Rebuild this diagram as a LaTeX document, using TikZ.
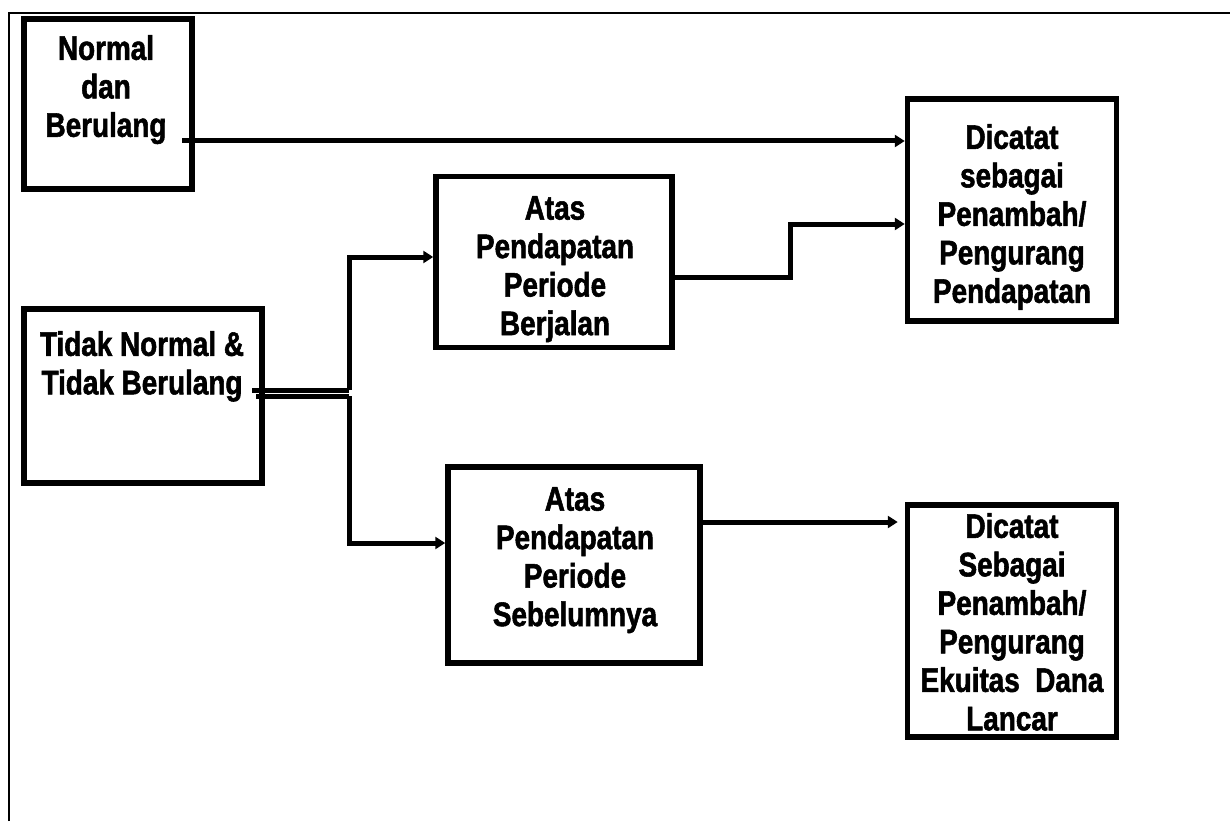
\documentclass[tikz,border=0pt]{standalone}
\usepackage{fontspec}
\setmainfont{Liberation Sans}[FakeStretch=0.82,BoldFeatures={FakeBold=1.6}]
\usetikzlibrary{arrows.meta}
\begin{document}
\begin{tikzpicture}[x=1pt,y=-1pt,
  boxnode/.style={draw,line width=5.5pt,inner sep=0pt},
  txt/.style={anchor=north,align=center,inner sep=0pt,font=\fontsize{34}{38.5}\selectfont\bfseries},
  conn/.style={line width=5pt},
  arr/.style={line width=5pt,-{Triangle[length=10pt,width=12pt]}}]
\useasboundingbox (0,0) rectangle (1230,821);
\fill[white] (0,0) rectangle (1230,821);
\draw[line width=2.5pt] (9,821) -- (9,13) -- (1230,13);
% boxes
\node[boxnode,minimum width=168pt,minimum height=170pt] (b1) at (108,104) {};
\node[boxnode,minimum width=238pt,minimum height=174pt] (b2) at (143,396) {};
\node[boxnode,minimum width=236pt,minimum height=171pt] (b3) at (554,262) {};
\node[boxnode,minimum width=252pt,minimum height=196pt] (b4) at (574,565) {};
\node[boxnode,minimum width=209pt,minimum height=222pt] (d1) at (1012,210) {};
\node[boxnode,minimum width=209pt,minimum height=232pt] (d2) at (1012,621) {};
% texts
\node[txt] (t1) at (106,35) {Normal\\dan\\Berulang};
\node[txt] (t2) at (142,331) {Tidak Normal \&\\Tidak Berulang};
\node[txt] (t3) at (555,196) {Atas\\Pendapatan\\Periode\\Berjalan};
\node[txt] (t4) at (575,487) {Atas\\Pendapatan\\Periode\\Sebelumnya};
\node[txt] (t5) at (1012,124) {Dicatat\\sebagai\\Penambah/\\Pengurang\\Pendapatan};
\node[txt] (t6) at (1012,513) {Dicatat\\Sebagai\\Penambah/\\Pengurang\\Ekuitas\ \ Dana\\Lancar};
% connector helper coordinates
\coordinate (s1) at (182,141);
\coordinate (s2a) at (252,390);
\coordinate (s2b) at (256,396);
\coordinate (j1) at (349,390);
\coordinate (j2) at (349,396);
\coordinate (k1) at (790,277);
% connectors
\draw[arr] (s1) -- (s1 -| d1.west);
\draw[arr] (b3.east |- k1) -- (k1) -- (790,224) -- (d1.west |- 0,224);
\draw[conn] (s2a) -- (j1);
\draw[arr] (j1) -- (349,257) -- (b3.west |- 0,257);
\draw[conn] (s2b) -- (j2);
\draw[arr] (j2) -- (349,543) -- (b4.west |- 0,543);
\draw[arr] (b4.east |- 0,522) -- ([xshift=-7pt]d2.west |- 0,522);
\end{tikzpicture}
\end{document}
